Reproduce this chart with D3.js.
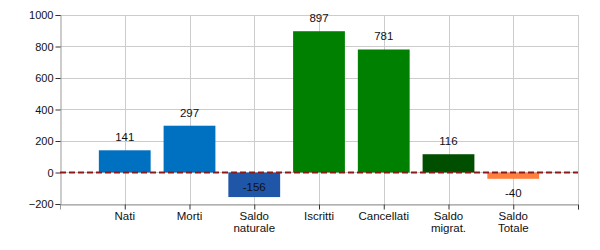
<!DOCTYPE html>
<html><head><meta charset="utf-8">
<script src="https://cdn.jsdelivr.net/npm/d3@7"></script>
<style>body{margin:0;background:#fff}svg{display:block;font-family:"Liberation Sans",Arial,sans-serif}</style>
</head><body><svg id="c" width="600" height="250"></svg>
<script>
const categories = [["Nati"],["Morti"],["Saldo","naturale"],["Iscritti"],["Cancellati"],["Saldo","migrat."],["Saldo","Totale"]];
const values = [141, 297, -156, 897, 781, 116, -40];
const colors = ["#0070c0","#0070c0","#1f56a8","#008000","#008000","#004f00","#ff7f3f"];
const yTicks = [-200, 0, 200, 400, 600, 800, 1000];

const svg = d3.select("#c");
const L = 60, R = 578, T = 15, B = 204;
const y = d3.scaleLinear().domain([-200, 1000]).range([B, T]);
const x = d3.scaleLinear().domain([0, categories.length + 1]).range([L, R]);
const bw = (x(1) - x(0)) * 0.8;

// grid
svg.append("g").selectAll("line").data(yTicks).join("line")
  .attr("x1", L).attr("x2", R).attr("y1", d => y(d)).attr("y2", d => y(d))
  .attr("stroke", "#cccccc").attr("shape-rendering", "crispEdges");
svg.append("g").selectAll("line").data(d3.range(1, categories.length + 2)).join("line")
  .attr("x1", d => Math.round(x(d)) + 0.5).attr("x2", d => Math.round(x(d)) + 0.5).attr("y1", T).attr("y2", B)
  .attr("stroke", "#cccccc");

// bars
svg.append("g").selectAll("rect").data(values).join("rect")
  .attr("x", (d, i) => x(i + 1) - bw / 2).attr("width", bw)
  .attr("y", d => y(Math.max(0, d))).attr("height", d => Math.abs(y(d) - y(0)))
  .attr("fill", (d, i) => colors[i]);

// axes
const ya = svg.append("g").attr("transform", `translate(${L + 0.5},0)`)
  .call(d3.axisLeft(y).tickValues(yTicks).tickSize(5).tickPadding(2).tickFormat(d3.format("d")));
const xa = svg.append("g").attr("transform", `translate(0,${B + 0.5})`)
  .call(d3.axisBottom(x).tickValues(d3.range(1, categories.length + 2)).tickSize(5).tickFormat(""));
[ya, xa].forEach(a => {
  a.select(".domain").attr("stroke", "#999");
  a.selectAll(".tick line").attr("stroke", "#333");
  a.selectAll("text").attr("fill", "#111").attr("font-size", 11).attr("font-family", "Liberation Sans, Arial, sans-serif");
});

// x labels
const xl = svg.append("g").selectAll("text").data(categories).join("text")
  .attr("text-anchor", "middle").attr("font-size", 11.5).attr("fill", "#111")
  .attr("x", (d, i) => x(i + 1)).attr("y", 220);
xl.selectAll("tspan").data(d => d).join("tspan")
  .attr("x", function() { return this.parentNode.getAttribute("x"); })
  .attr("dy", (d, i) => i === 0 ? 0 : 12).text(d => d);

// zero line
svg.append("line").attr("x1", L).attr("x2", R).attr("y1", y(0)).attr("y2", y(0))
  .attr("stroke", "#8b1a1a").attr("stroke-width", 2).attr("stroke-dasharray", "6,3");

// value labels
svg.append("g").selectAll("text").data(values).join("text")
  .attr("text-anchor", "middle").attr("font-size", 11.5).attr("fill", "#111")
  .attr("x", (d, i) => x(i + 1))
  .attr("y", d => {
    if (d >= 0) return y(d) - 9;
    const yb = y(d) + 18;
    return yb > B - 5 ? y(d) - 6 : yb;
  })
  .text(d => d);
</script></body></html>
